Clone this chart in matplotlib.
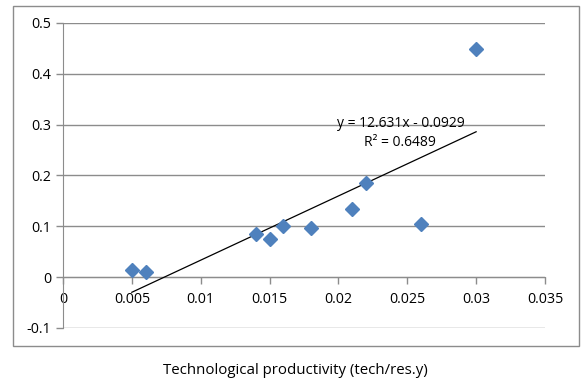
import matplotlib
matplotlib.use("Agg")
import matplotlib.pyplot as plt
from matplotlib.patches import Rectangle
import numpy as np

plt.rcParams['font.family'] = ['Open Sans', 'DejaVu Sans']

# data
tech_productivity = [0.005, 0.006, 0.014, 0.015, 0.016, 0.018, 0.021, 0.022, 0.026, 0.030]
outcome = [0.014, 0.010, 0.085, 0.075, 0.100, 0.097, 0.134, 0.185, 0.105, 0.449]
x_ticks = [0, 0.005, 0.01, 0.015, 0.02, 0.025, 0.03, 0.035]
x_tick_labels = ['0', '0.005', '0.01', '0.015', '0.02', '0.025', '0.03', '0.035']
y_ticks = [-0.1, 0, 0.1, 0.2, 0.3, 0.4, 0.5]
y_tick_labels = ['-0.1', '0', '0.1', '0.2', '0.3', '0.4', '0.5']
slope, intercept = 12.631, -0.0929
r_squared = 0.6489

fig = plt.figure(figsize=(5.81, 3.82), dpi=100)
fig.patches.append(Rectangle((0.0224, 0.0942), 0.974, 0.890, transform=fig.transFigure,
                             fill=False, edgecolor='#8c8c8c', linewidth=1.0))
ax = fig.add_axes([0.1084, 0.1414, 0.8296, 0.7984])

ax.set_xlim(0, 0.035)
ax.set_ylim(-0.1, 0.5)
ax.set_yticks(y_ticks)
ax.set_yticklabels(y_tick_labels)
ax.set_xticks(x_ticks)
ax.set_xticklabels(x_tick_labels)

grid_color = '#8c8c8c'
ax.grid(axis='y', color=grid_color, linewidth=1.0)
ax.set_axisbelow(True)
for s in ['top', 'right']:
    ax.spines[s].set_visible(False)
ax.spines['left'].set_color(grid_color)
ax.spines['bottom'].set_color(grid_color)
ax.spines['bottom'].set_position(('data', 0))
ax.tick_params(axis='both', colors=grid_color, labelcolor='black', labelsize=10.3, length=5, width=1)
ax.tick_params(axis='x', pad=6)

# trend line
fit_x = np.array([min(tech_productivity), max(tech_productivity)])
ax.plot(fit_x, slope * fit_x + intercept, color='black', linewidth=0.9, zorder=3)

ax.plot(tech_productivity, outcome, linestyle='', marker='D', markersize=7.3,
        color='#4F81BD', markeredgecolor='#4F81BD', zorder=4, clip_on=False)

ax.text(0.0245, 0.302, f'y = {slope}x - {abs(intercept)}', ha='center', va='center', fontsize=10)
ax.text(0.0245, 0.265, f'R² = {r_squared}', ha='center', va='center', fontsize=10)

fig.text(295 / 581, 1 - 370 / 382, 'Technological productivity (tech/res.y)',
         ha='center', va='center', fontsize=10.8)

fig.savefig('out.png', dpi=100)
